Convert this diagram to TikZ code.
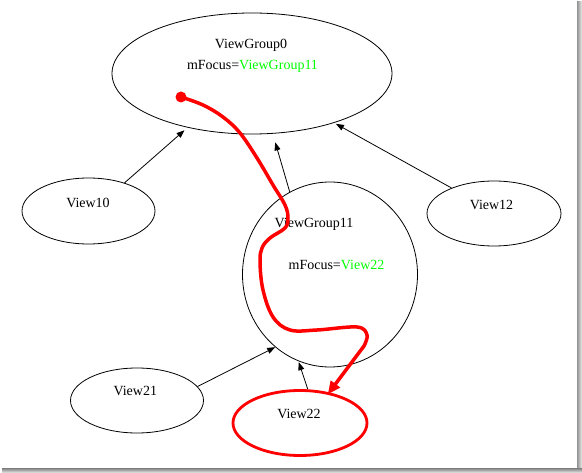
\documentclass[tikz,border=0pt]{standalone}
\usepackage{fontspec}
\setmainfont{Liberation Serif}
\usetikzlibrary{arrows.meta}
\usetikzlibrary{shapes.geometric}
\definecolor{focusgreen}{RGB}{0,255,0}
\begin{document}
\begin{tikzpicture}[x=1pt,y=-1pt,
    view/.style={draw,ellipse,inner sep=0pt,line width=0.8pt},
    lbl/.style={inner sep=0pt,anchor=base,font=\fontsize{14}{16}\selectfont},
    link/.style={-{Triangle[length=8pt,width=6pt]},line width=0.8pt}]
    \useasboundingbox (0,0) rectangle (582,473);
    \fill[white] (0,0) rectangle (582,473);
    % frame shadow
    \shade[left color=gray!85,right color=gray!15] (577,2) rectangle (582,470);
    \shade[top color=gray!85,bottom color=gray!15] (2,469) rectangle (582,473);

    % views
    \node[view,minimum width=280,minimum height=121] (vg0) at (252,73.5) {};
    \node[view,minimum width=133,minimum height=66] (v10) at (88.5,211) {};
    \node[view,minimum width=134,minimum height=65] (v12) at (494,213.5) {};
    \node[view,minimum width=175,minimum height=185] (vg11) at (330,274.5) {};
    \node[view,minimum width=133,minimum height=65] (v21) at (137,400.5) {};
    \node[view,draw=red,line width=2.8pt,minimum width=134,minimum height=65] (v22) at (300,423) {};

    \node[lbl] (vg0name) at (251,49) {ViewGroup0};
    \node[lbl] (vg0focus) at (252.5,70) {mFocus=\textcolor{focusgreen}{ViewGroup11}};
    \node[lbl] (v10name) at (88,207.3) {View10};
    \node[lbl] (v12name) at (491.5,209.3) {View12};
    \node[lbl] (vg11name) at (314,227.3) {ViewGroup11};
    \node[lbl] (vg11focus) at (336.5,269.3) {mFocus=\textcolor{focusgreen}{View22}};
    \node[lbl] (v21name) at (135.3,396) {View21};
    \node[lbl] (v22name) at (299,419) {View22};

    % child -> parent
    \draw[link,shorten >=4pt] (v10.38) -- (vg0.220);
    \draw[link,shorten >=2pt] (v12.149) -- (vg0.-31);
    \draw[link,shorten >=9pt] (vg11.116) -- (vg0.-71);
    \draw[link] (v21.13) -- (vg11.233);
    \draw[link,shorten >=1pt] (v22.77) -- (vg11.-110);

    % focus path
    \node[circle,fill=red,minimum size=11pt,inner sep=0pt] (focusstart) at (181,97) {};
    \draw[red,line width=3.5pt,line join=round,-{Triangle[length=13pt,width=11pt]}]
    plot[smooth,tension=0.6] coordinates {(focusstart.center) (203,105) (223,117)
    (240,133) (257,158) (273,185) (285,205) (288,218) (285,228) (270,238)
    (262,248) (260,262) (263,290) (273,317) (290,330) (317,330) (357,327)
    (367,335) (364,346)}
    -- ([shift={(3pt,-3pt)}]v22.52);
\end{tikzpicture}
\end{document}
